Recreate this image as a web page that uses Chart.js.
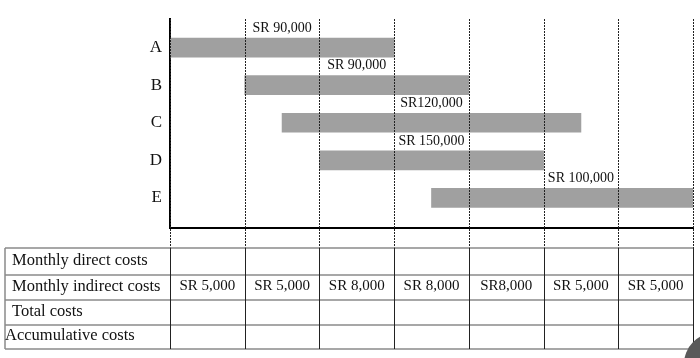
<!DOCTYPE html>
<html>
<head>
<meta charset="utf-8">
<style>
  html, body { margin: 0; padding: 0; background: #fff; }
  #wrap { width: 700px; height: 358px; }
</style>
<script src="https://cdn.jsdelivr.net/npm/chart.js@4.4.0/dist/chart.umd.min.js"></script>
</head>
<body>
<div id="wrap"><canvas id="ganttChart"></canvas></div>
<script>
// activities and their months (start, end)
var tasks = ["A", "B", "C", "D", "E"];
var starts = [0, 1, 1.5, 2, 3.5];
var ends = [3, 4, 5.5, 5, 7];
var costs = ["SR 90,000", "SR 90,000", "SR120,000", "SR 150,000", "SR 100,000"];

var months = 7;
var rowNames = ["Monthly direct costs", "Monthly indirect costs", "Total costs", "Accumulative costs"];
var directCosts = ["", "", "", "", "", "", ""];
var indirectCosts = ["SR 5,000", "SR 5,000", "SR 8,000", "SR 8,000", "SR8,000", "SR 5,000", "SR 5,000"];
var totalCosts = ["", "", "", "", "", "", ""];
var accumCosts = ["", "", "", "", "", "", ""];

var serif = '"Liberation Serif", "Times New Roman", serif';

var bars = tasks.map(function (t, i) {
  return { y: i, x: [starts[i], ends[i]] };
});

var ganttExtras = {
  id: "ganttExtras",
  afterDatasetsDraw: function (chart) {
    var ctx = chart.ctx;
    var xs = chart.scales.x;
    var area = chart.chartArea;
    var tableTop = 248, rowH = [27, 25, 25, 24];
    var tableBottom = tableTop + rowH.reduce(function (a, b) { return a + b; }, 0);

    ctx.save();
    // dashed month lines over the chart
    ctx.strokeStyle = "#222";
    ctx.lineWidth = 1;
    ctx.setLineDash([2, 1]);
    for (var m = 0; m <= months; m++) {
      var px = Math.round(xs.getPixelForValue(m)) + 0.5;
      ctx.beginPath();
      ctx.moveTo(px, area.top);
      ctx.lineTo(px, tableTop);
      ctx.stroke();
    }
    ctx.setLineDash([]);

    // cost labels above bars, centred in the month holding the bar's middle
    var meta = chart.getDatasetMeta(0);
    ctx.fillStyle = "#111";
    ctx.font = "14px " + serif;
    ctx.textAlign = "center";
    ctx.textBaseline = "middle";
    meta.data.forEach(function (el, i) {
      var col = Math.floor((starts[i] + ends[i]) / 2);
      var cx = xs.getPixelForValue(col + 0.5);
      ctx.fillText(costs[i], cx, el.y - el.height / 2 - 10);
    });

    // cost table
    var rows = [directCosts, indirectCosts, totalCosts, accumCosts];
    var left = 5;
    var right = xs.getPixelForValue(months);
    ctx.strokeStyle = "#8a8a8a";
    ctx.lineWidth = 1.5;
    var y = tableTop;
    for (var r = 0; r <= rows.length; r++) {
      ctx.beginPath();
      ctx.moveTo(left, y);
      ctx.lineTo(right, y);
      ctx.stroke();
      if (r < rows.length) y += rowH[r];
    }
    ctx.beginPath();
    ctx.moveTo(left, tableTop);
    ctx.lineTo(left, tableBottom);
    ctx.stroke();

    ctx.strokeStyle = "#222";
    ctx.lineWidth = 1;
    for (var k = 0; k <= months; k++) {
      var vx = Math.round(xs.getPixelForValue(k)) + 0.5;
      ctx.beginPath();
      ctx.moveTo(vx, tableTop);
      ctx.lineTo(vx, tableBottom);
      ctx.stroke();
    }

    ctx.fillStyle = "#111";
    y = tableTop;
    rows.forEach(function (vals, r) {
      var cy = y + rowH[r] / 2 - 1;
      ctx.font = "16.5px " + serif;
      ctx.textAlign = "left";
      ctx.fillText(rowNames[r], r === 3 ? 5 : 12, cy);
      ctx.font = "15px " + serif;
      ctx.textAlign = "center";
      vals.forEach(function (v, c) {
        var cx = (xs.getPixelForValue(c) + xs.getPixelForValue(c + 1)) / 2;
        ctx.fillText(v, cx, cy);
      });
      y += rowH[r];
    });

    // grey blob in the corner of the original
    ctx.fillStyle = "#5a5a5a";
    ctx.beginPath();
    ctx.arc(715, 364, 31, 0, Math.PI * 2);
    ctx.fill();
    ctx.restore();
  }
};

var gantt = new Chart(document.getElementById("ganttChart"), {
  type: "bar",
  data: {
    datasets: [{
      data: bars,
      backgroundColor: "#a0a0a0",
      borderWidth: 0,
      barThickness: 19
    }]
  },
  options: {
    indexAxis: "y",
    responsive: true,
    maintainAspectRatio: false,
    animation: false,
    layout: { padding: { top: 19, right: 7, left: 0, bottom: 0 } },
    plugins: {
      legend: { display: false },
      tooltip: { enabled: false }
    },
    scales: {
      x: {
        type: "linear",
        min: 0,
        max: months,
        ticks: { display: false, stepSize: 1 },
        grid: { display: false },
        border: { display: true, color: "#000", width: 2 },
        afterFit: function (s) { s.height = 130; }
      },
      y: {
        type: "linear",
        offset: false,
        reverse: true,
        min: -0.76,
        max: 4.8,
        afterBuildTicks: function (s) {
          s.ticks = tasks.map(function (t, i) { return { value: i }; });
        },
        ticks: {
          padding: 8,
          color: "#111",
          font: { family: serif, size: 17 },
          callback: function (v) { return tasks[v]; }
        },
        grid: { display: false, drawTicks: false },
        border: { display: true, color: "#000", width: 2 },
        afterFit: function (s) { s.width = 170; }
      }
    }
  },
  plugins: [ganttExtras]
});
</script>
</body>
</html>
